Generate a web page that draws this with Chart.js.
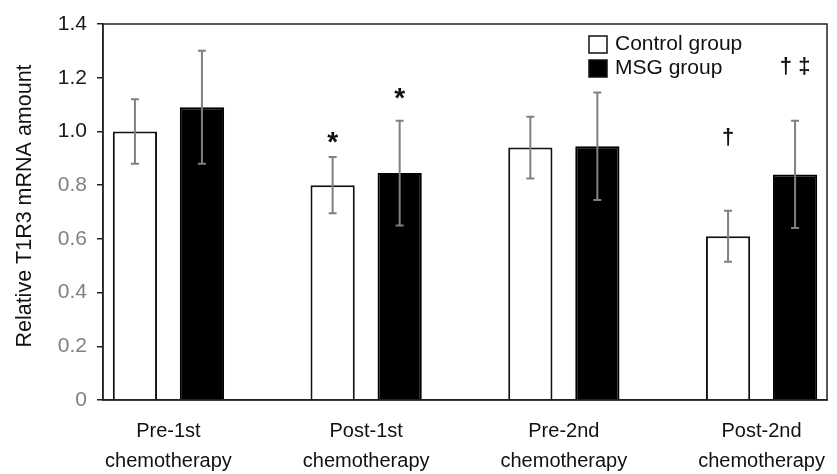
<!DOCTYPE html>
<html><head><meta charset="utf-8">
<script src="https://cdn.jsdelivr.net/npm/chart.js@4/dist/chart.umd.min.js"></script>
<style>html,body{margin:0;padding:0;background:#fff}#wrap{width:837px;height:474px}</style>
</head><body><div id="wrap"><canvas id="c" width="837" height="474"></canvas></div>
<script>
const categories = [["Pre-1st","chemotherapy"],["Post-1st","chemotherapy"],["Pre-2nd","chemotherapy"],["Post-2nd","chemotherapy"]];
const seriesNames = ["Control group","MSG group"];
const controlValues = [1.00, 0.80, 0.94, 0.61];
const controlErrors = [0.12, 0.105, 0.115, 0.095];
const msgValues = [1.09, 0.845, 0.945, 0.84];
const msgErrors = [0.21, 0.195, 0.20, 0.20];
const controlMarks = ["", "*", "", "\u2020"];
const controlMarkY = [null, 0.975, null, 0.975];
const msgMarks = ["", "*", "", "\u2020 \u2021"];
const msgMarkY = [null, 1.14, null, 1.24];
const yTicks = [0, 0.2, 0.4, 0.6, 0.8, 1.0, 1.2, 1.4];
const yTitle = "Relative T1R3 mRNA amount";

const FONT = "'Liberation Sans', Arial, sans-serif";
const errors = [controlErrors, msgErrors];
const marks = [controlMarks, msgMarks];
const markY = [controlMarkY, msgMarkY];

const toXY = vals => vals.map((v, i) => ({x: i, y: v}));

const overlay = {
  id: 'overlay',
  afterDatasetsDraw(chart) {
    const ctx = chart.ctx, ys = chart.scales.y;
    ctx.save();
    // error bars
    ctx.strokeStyle = '#808080';
    ctx.lineWidth = 2;
    chart.data.datasets.forEach((ds, di) => {
      const meta = chart.getDatasetMeta(di);
      meta.data.forEach((bar, j) => {
        const v = ds.data[j].y, e = errors[di][j];
        const yTop = ys.getPixelForValue(v + e), yBot = ys.getPixelForValue(v - e);
        const x = bar.x, cw = 4;
        ctx.beginPath();
        ctx.moveTo(x, yTop); ctx.lineTo(x, yBot);
        ctx.moveTo(x - cw, yTop); ctx.lineTo(x + cw, yTop);
        ctx.moveTo(x - cw, yBot); ctx.lineTo(x + cw, yBot);
        ctx.stroke();
      });
    });
    // significance marks
    ctx.fillStyle = '#111';
    ctx.textAlign = 'center';
    ctx.textBaseline = 'middle';
    chart.data.datasets.forEach((ds, di) => {
      const meta = chart.getDatasetMeta(di);
      meta.data.forEach((bar, j) => {
        const m = marks[di][j];
        if (!m) return;
        const y = ys.getPixelForValue(markY[di][j]);
        if (m === '*') { ctx.font = 'bold 28px ' + FONT; ctx.fillText(m, bar.x, y + 5); }
        else { ctx.font = 'bold 22px ' + FONT; ctx.fillText(m, bar.x, y); }
      });
    });
    // frame
    const a = chart.chartArea;
    ctx.strokeStyle = '#222';
    ctx.lineWidth = 1.5;
    ctx.strokeRect(a.left, a.top, a.right - a.left, a.bottom - a.top);
    // legend
    const lx = 589, ly = [36, 60];
    chart.data.datasets.forEach((ds, di) => {
      ctx.fillStyle = ds.backgroundColor;
      ctx.fillRect(lx, ly[di], 18, 17);
      ctx.strokeStyle = '#111';
      ctx.lineWidth = 1.5;
      ctx.strokeRect(lx, ly[di], 18, 17);
      ctx.fillStyle = '#111';
      ctx.font = '21px ' + FONT;
      ctx.textAlign = 'left';
      ctx.textBaseline = 'middle';
      ctx.fillText(ds.label, lx + 26, ly[di] + 8);
    });
    // y axis title
    ctx.translate(25, (a.top + a.bottom) / 2 - 6);
    ctx.rotate(-Math.PI / 2);
    ctx.font = '21.5px ' + FONT;
    ctx.fillStyle = '#111';
    ctx.textAlign = 'center';
    ctx.textBaseline = 'middle';
    ctx.fillText(yTitle, 0, 0);
    ctx.restore();
  }
};

new Chart(document.getElementById('c'), {
  type: 'bar',
  data: {
    datasets: [
      { label: seriesNames[0], data: toXY(controlValues), backgroundColor: '#ffffff', borderColor: '#111', borderWidth: 2 },
      { label: seriesNames[1], data: toXY(msgValues), backgroundColor: '#000000', borderColor: '#000', borderWidth: 2 }
    ]
  },
  options: {
    responsive: false,
    devicePixelRatio: 1,
    animation: false,
    categoryPercentage: 0.678,
    barPercentage: 0.66,
    layout: { padding: { top: 24, right: 10, left: 0, bottom: 0 } },
    plugins: { legend: { display: false }, tooltip: { enabled: false } },
    scales: {
      x: {
        type: 'linear',
        offset: false,
        min: -0.331, max: 3.331,
        afterBuildTicks: axis => { axis.ticks = categories.map((c, i) => ({ value: i })); },
        afterFit: s => { s.height = 74; },
        grid: { display: true, drawOnChartArea: false, drawTicks: true, tickLength: 8, color: 'rgba(0,0,0,0)' },
        border: { display: true, color: '#222', width: 1.5 },
        ticks: {
          autoSkip: false, maxRotation: 0, padding: 8,
          color: '#111',
          font: { family: FONT, size: 20, lineHeight: 1.5 },
          callback: v => categories[v]
        }
      },
      y: {
        min: 0, max: 1.4,
        afterBuildTicks: axis => { axis.ticks = yTicks.map(v => ({ value: v })); },
        afterFit: s => { s.width = 103; },
        grid: { display: true, drawOnChartArea: false, drawTicks: true, tickLength: 6, color: '#222', lineWidth: 1.5 },
        border: { display: true, color: '#222', width: 1.5 },
        ticks: {
          padding: 10,
          color: c => (c.tick && c.tick.value >= 1 ? '#1a1a1a' : '#808080'),
          font: { family: FONT, size: 21 },
          callback: v => (v === 0 ? '0' : v.toFixed(1))
        },
        title: { display: false, text: yTitle }
      }
    }
  },
  plugins: [overlay]
});
</script>
</body></html>
